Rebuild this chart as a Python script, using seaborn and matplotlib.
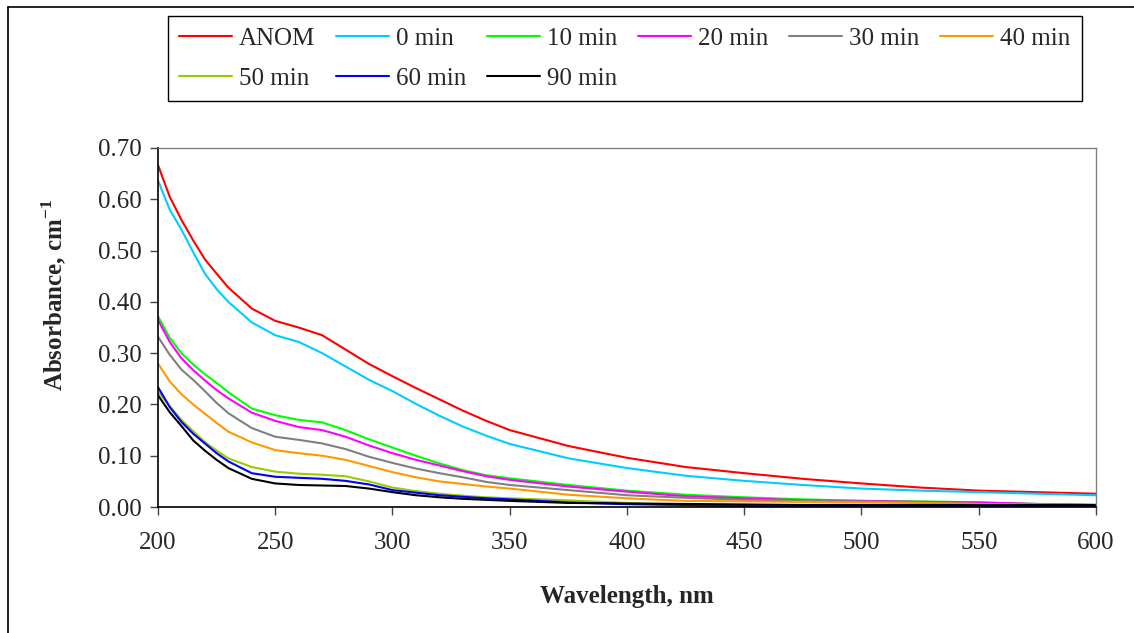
import matplotlib
matplotlib.use("Agg")
import pandas as pd
import matplotlib.pyplot as plt
from matplotlib.lines import Line2D
import seaborn as sns

# Wavelength grid (nm) and absorbance readings (cm-1) per sample
wavelength = [200, 205, 210, 215, 220, 225, 230, 240, 250, 260, 270, 280, 290, 300,
              310, 320, 330, 340, 350, 375, 400, 425, 450, 475, 500, 525, 550, 575, 600]

anom = [0.667, 0.605, 0.560, 0.520, 0.483, 0.455, 0.428, 0.387, 0.363, 0.350, 0.335, 0.307, 0.279, 0.255,
        0.232, 0.210, 0.188, 0.168, 0.150, 0.119, 0.096, 0.078, 0.066, 0.055, 0.046, 0.038, 0.032, 0.029, 0.026]
min_0 = [0.637, 0.580, 0.541, 0.497, 0.455, 0.425, 0.400, 0.360, 0.335, 0.322, 0.300, 0.274, 0.248, 0.226,
         0.201, 0.178, 0.157, 0.139, 0.123, 0.095, 0.076, 0.061, 0.051, 0.043, 0.036, 0.032, 0.029, 0.026, 0.023]
min_10 = [0.372, 0.330, 0.300, 0.278, 0.259, 0.242, 0.224, 0.192, 0.179, 0.170, 0.165, 0.150, 0.132, 0.116,
          0.100, 0.085, 0.072, 0.062, 0.056, 0.043, 0.032, 0.024, 0.019, 0.015, 0.012, 0.011, 0.009, 0.006, 0.004]
min_20 = [0.365, 0.322, 0.290, 0.267, 0.247, 0.228, 0.212, 0.184, 0.168, 0.156, 0.150, 0.137, 0.120, 0.105,
          0.092, 0.081, 0.070, 0.060, 0.053, 0.040, 0.030, 0.021, 0.017, 0.013, 0.012, 0.010, 0.009, 0.006, 0.004]
min_30 = [0.332, 0.297, 0.268, 0.248, 0.226, 0.203, 0.183, 0.154, 0.137, 0.131, 0.124, 0.113, 0.098, 0.086,
          0.075, 0.066, 0.058, 0.049, 0.043, 0.033, 0.023, 0.018, 0.014, 0.012, 0.011, 0.009, 0.006, 0.005, 0.004]
min_40 = [0.280, 0.245, 0.220, 0.200, 0.182, 0.164, 0.147, 0.126, 0.111, 0.105, 0.100, 0.092, 0.080, 0.068,
          0.058, 0.050, 0.045, 0.040, 0.036, 0.024, 0.017, 0.012, 0.011, 0.010, 0.009, 0.008, 0.006, 0.005, 0.004]
min_50 = [0.225, 0.197, 0.170, 0.148, 0.127, 0.110, 0.095, 0.078, 0.069, 0.065, 0.063, 0.060, 0.050, 0.038,
          0.031, 0.026, 0.022, 0.019, 0.017, 0.013, 0.008, 0.003, 0.001, 0.000, 0.000, 0.000, 0.000, 0.000, 0.000]
min_60 = [0.234, 0.195, 0.166, 0.143, 0.124, 0.105, 0.089, 0.066, 0.059, 0.057, 0.055, 0.051, 0.044, 0.033,
          0.028, 0.023, 0.020, 0.017, 0.015, 0.009, 0.0055, 0.004, 0.002, 0.001, 0.001, 0.001, 0.000, 0.000, 0.000]
min_90 = [0.218, 0.185, 0.158, 0.130, 0.110, 0.092, 0.076, 0.055, 0.046, 0.043, 0.042, 0.041, 0.036, 0.029,
          0.023, 0.019, 0.016, 0.014, 0.012, 0.008, 0.007, 0.006, 0.005, 0.004, 0.004, 0.004, 0.004, 0.004, 0.004]

series_names = ["ANOM", "0 min", "10 min", "20 min", "30 min", "40 min", "50 min", "60 min", "90 min"]
series_values = [anom, min_0, min_10, min_20, min_30, min_40, min_50, min_60, min_90]
series_colors = ["#FF0000", "#00CCFF", "#00FF00", "#FF00FF", "#808080", "#FF9900", "#99CC00", "#0000FF", "#000000"]

rows = []
for name, vals in zip(series_names, series_values):
    for w, a in zip(wavelength, vals):
        rows.append({"Wavelength": w, "Absorbance": a, "Series": name})
df = pd.DataFrame(rows)

sns.set_theme(style="white")
plt.rcParams["font.family"] = ["Liberation Serif", "DejaVu Serif"]
plt.rcParams["mathtext.fontset"] = "custom"
plt.rcParams["mathtext.rm"] = "Liberation Serif"
plt.rcParams["mathtext.bf"] = "Liberation Serif:bold"

fig = plt.figure(figsize=(11.34, 6.33), dpi=100)
ax = fig.add_axes([0.1393, 0.199, 0.8272, 0.5672])

sns.lineplot(data=df, x="Wavelength", y="Absorbance", hue="Series", hue_order=series_names,
             palette=dict(zip(series_names, series_colors)), linewidth=1.5, ax=ax)

handles, labels = ax.get_legend_handles_labels()
ax.get_legend().remove()
# legend fills column by column: reorder so it reads row by row like the original
order = [0, 6, 1, 7, 2, 8, 3, 4, 5]
handles = [handles[i] for i in order]
labels = [labels[i] for i in order]

ax.set_xlim(200, 600)
ax.set_ylim(0, 0.70)
ax.set_xticks(range(200, 601, 50))
ax.set_yticks([i / 10 for i in range(8)])
ax.set_yticklabels([f"{i / 10:.2f}" for i in range(8)])
ax.tick_params(axis="both", labelsize=18, length=6, width=1, color="#444444", direction="out",
               left=True, bottom=True)
ax.tick_params(axis="x", pad=12)
ax.tick_params(axis="y", pad=6)

for side in ["left", "bottom"]:
    ax.spines[side].set_color("black")
    ax.spines[side].set_linewidth(1.2)
for side in ["top", "right"]:
    ax.spines[side].set_color("#808080")
    ax.spines[side].set_linewidth(1.0)

ax.set_xlabel("Wavelength, nm", fontsize=18, fontweight="bold", labelpad=22)
ax.set_ylabel(r"Absorbance, cm$^{\mathbf{-1}}$", fontsize=18, fontweight="bold")
ax.yaxis.set_label_coords(-0.095, 0.59)

leg = fig.legend(handles, labels, loc="lower left", ncol=6, mode="expand",
                 bbox_to_anchor=(0.1481, 0.8404, 0.806, 0.139), fontsize=18,
                 frameon=True, fancybox=False, framealpha=1, edgecolor="black",
                 handlelength=2.1, handletextpad=0.3, columnspacing=0.6,
                 borderaxespad=0, borderpad=0.45, labelspacing=0.7)
leg.get_frame().set_linewidth(1.0)

# outer chart-area border (left and top edges visible)
fig.add_artist(Line2D([8 / 1134, 8 / 1134], [0, 1 - 7 / 633], transform=fig.transFigure, color="black", linewidth=1.2))
fig.add_artist(Line2D([8 / 1134, 1], [1 - 7 / 633, 1 - 7 / 633], transform=fig.transFigure, color="black", linewidth=1.2))

fig.savefig("out.png", dpi=100)
